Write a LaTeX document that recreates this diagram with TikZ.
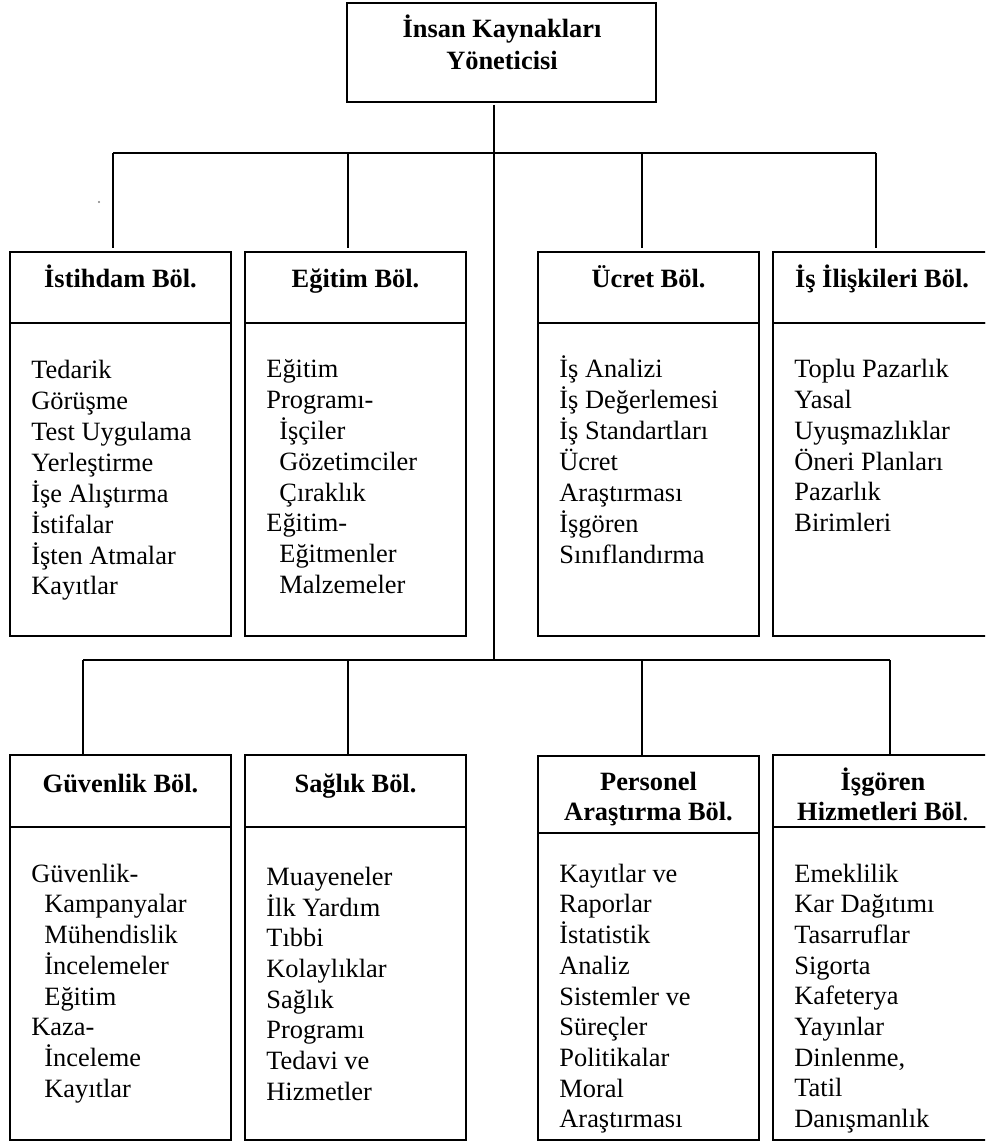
\documentclass[tikz,border=0pt]{standalone}
\usepackage{fontspec}
\setmainfont{Liberation Serif}
\usetikzlibrary{fit}
\newcommand{\indx}{\hspace*{6.5pt}}
\newcommand{\lines}[1]{\begin{tabular}[t]{@{}l@{}}#1\end{tabular}}
\newcommand{\clines}[1]{\begin{tabular}[t]{@{}c@{}}#1\end{tabular}}
\begin{document}
\begin{tikzpicture}[x=0.5pt,y=-0.5pt,
  boxst/.style={draw=black,line width=1.3pt,inner sep=0pt,outer sep=0pt},
  conn/.style={draw=black,line width=1pt},
  ttl/.style={inner sep=0pt,anchor=base,font=\fontsize{13.2}{15.35}\selectfont\bfseries},
  bdy/.style={inner sep=0pt,anchor=base west,font=\fontsize{13.2}{15.35}\selectfont}]
\useasboundingbox (0,0) rectangle (985,1143);
\clip (0,0) rectangle (985,1143);
\fill[white] (0,0) rectangle (985,1143);

% top box
\node[boxst,fit={(347,3) (656,102)}] (top) {};
\node[ttl] (topT) at (502,38) {\clines{İnsan Kaynakları\\[0.6pt]Yöneticisi}};

% department boxes: header and body
\node[boxst,fit={(10,252) (231,323)}] (istH) {};
\node[boxst,fit={(10,323) (231,636)}] (istB) {};
\node[boxst,fit={(245,252) (466,323)}] (egtH) {};
\node[boxst,fit={(245,323) (466,636)}] (egtB) {};
\node[boxst,fit={(538,252) (759,323)}] (ucrH) {};
\node[boxst,fit={(538,323) (759,636)}] (ucrB) {};
\node[boxst,fit={(773,252) (992,323)}] (isiH) {};
\node[boxst,fit={(773,323) (992,636)}] (isiB) {};

\node[boxst,fit={(10,755) (231,827)}] (guvH) {};
\node[boxst,fit={(10,827) (231,1140)}] (guvB) {};
\node[boxst,fit={(245,755) (466,827)}] (sagH) {};
\node[boxst,fit={(245,827) (466,1140)}] (sagB) {};
\node[boxst,fit={(538,756) (759,833)}] (perH) {};
\node[boxst,fit={(538,833) (759,1140)}] (perB) {};
\node[boxst,fit={(773,755) (992,827)}] (hizH) {};
\node[boxst,fit={(773,827) (992,1140)}] (hizB) {};

% titles
\node[ttl] (istT) at (120.5,288) {İstihdam Böl.};
\node[ttl] (egtT) at (355.5,288) {Eğitim Böl.};
\node[ttl] (ucrT) at (648.5,288) {Ücret Böl.};
\node[ttl] (isiT) at (882,288) {İş İlişkileri Böl.};
\node[ttl] (guvT) at (120.5,792) {Güvenlik Böl.};
\node[ttl] (sagT) at (355.5,792) {Sağlık Böl.};
\node[ttl] (perT) at (648.5,790) {\clines{Personel\\Araştırma Böl.}};
\node[ttl] (hizT) at (883,790) {\clines{İşgören\\Hizmetleri Böl\textnormal{.}}};

% body texts
\node[bdy] (istL) at (31,379) {\lines{Tedarik\\Görüşme\\Test Uygulama\\Yerleştirme\\İşe Alıştırma\\İstifalar\\İşten Atmalar\\Kayıtlar}};
\node[bdy] (egtL) at (266,378) {\lines{Eğitim\\Programı-\\\indx İşçiler\\\indx Gözetimciler\\\indx Çıraklık\\Eğitim-\\\indx Eğitmenler\\\indx Malzemeler}};
\node[bdy] (ucrL) at (559,378) {\lines{İş Analizi\\İş Değerlemesi\\İş Standartları\\Ücret\\Araştırması\\İşgören\\Sınıflandırma}};
\node[bdy] (isiL) at (794,378) {\lines{Toplu Pazarlık\\Yasal\\Uyuşmazlıklar\\Öneri Planları\\Pazarlık\\Birimleri}};
\node[bdy] (guvL) at (31,882) {\lines{Güvenlik-\\\indx Kampanyalar\\\indx Mühendislik\\\indx İncelemeler\\\indx Eğitim\\Kaza-\\\indx İnceleme\\\indx Kayıtlar}};
\node[bdy] (sagL) at (266,885) {\lines{Muayeneler\\İlk Yardım\\Tıbbi\\Kolaylıklar\\Sağlık\\Programı\\Tedavi ve\\Hizmetler}};
\node[bdy] (perL) at (559,882) {\lines{Kayıtlar ve\\Raporlar\\İstatistik\\Analiz\\Sistemler ve\\Süreçler\\Politikalar\\Moral\\Araştırması}};
\node[bdy] (hizL) at (794,882) {\lines{Emeklilik\\Kar Dağıtımı\\Tasarruflar\\Sigorta\\Kafeterya\\Yayınlar\\Dinlenme,\\Tatil\\Danışmanlık}};

% junction coordinates
\coordinate (j1) at (494,153);
\coordinate (j2) at (494,660);
\coordinate (a1) at (113,153);
\coordinate (b1) at (348,153);
\coordinate (c1) at (642,153);
\coordinate (d1) at (876,153);
\coordinate (a2) at (83,660);
\coordinate (b2) at (348,660);
\coordinate (c2) at (642,660);
\coordinate (d2) at (890,660);

% connectors
\draw[conn,shorten <=1.5pt] (top.south -| j1) -- (j2);
\draw[conn] (a1) -- (d1);
\draw[conn] (a2) -- (d2);
\draw[conn,shorten >=2pt] (a1) -- (a1 |- istH.north);
\draw[conn,shorten >=2pt] (b1) -- (b1 |- egtH.north);
\draw[conn,shorten >=2pt] (c1) -- (c1 |- ucrH.north);
\draw[conn,shorten >=2pt] (d1) -- (d1 |- isiH.north);
\draw[conn] (a2) -- (a2 |- guvH.north);
\draw[conn] (b2) -- (b2 |- sagH.north);
\draw[conn] (c2) -- (c2 |- perH.north);
\draw[conn] (d2) -- (d2 |- hizH.north);

% stray dot
\fill[gray] (99,202) circle[radius=0.6pt];
\end{tikzpicture}
\end{document}
